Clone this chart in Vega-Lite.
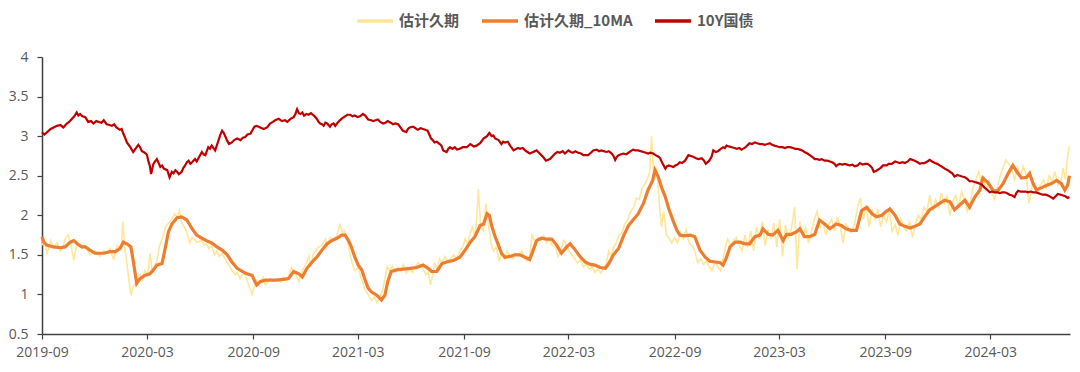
{
  "$schema": "https://vega.github.io/schema/vega-lite/v6.json",
  "width": 1028,
  "height": 277,
  "autosize": {"type": "none"},
  "padding": {"left": 42, "top": 57, "right": 10, "bottom": 38},
  "background": "white",
  "config": {
    "view": {"stroke": null},
    "axis": {"labelFont": "Open Sans", "labelFontSize": 14, "labelColor": "#595959", "domainColor": "#404040", "tickColor": "#404040", "grid": false, "title": null, "domainWidth": 1.5, "tickWidth": 1.2, "tickSize": 5, "labelFlush": false}
  },
  "datasets": {
    "raw": [
      {"d":"2019-09-01","v":1.62},{"d":"2019-09-04","v":1.70},{"d":"2019-09-10","v":1.52},{"d":"2019-09-16","v":1.68},{"d":"2019-09-21","v":1.58},{"d":"2019-09-27","v":1.65},{"d":"2019-10-03","v":1.55},{"d":"2019-10-08","v":1.62},{"d":"2019-10-11","v":1.70},{"d":"2019-10-16","v":1.75},{"d":"2019-10-20","v":1.68},{"d":"2019-10-26","v":1.43},{"d":"2019-11-01","v":1.66},{"d":"2019-11-09","v":1.58},{"d":"2019-11-15","v":1.62},{"d":"2019-11-23","v":1.50},{"d":"2019-12-02","v":1.55},{"d":"2019-12-10","v":1.48},{"d":"2019-12-17","v":1.55},{"d":"2019-12-22","v":1.52},{"d":"2019-12-28","v":1.58},{"d":"2020-01-03","v":1.44},{"d":"2020-01-06","v":1.55},{"d":"2020-01-10","v":1.62},{"d":"2020-01-14","v":1.58},{"d":"2020-01-17","v":1.65},{"d":"2020-01-19","v":1.92},{"d":"2020-01-22","v":1.60},{"d":"2020-01-26","v":1.40},{"d":"2020-01-30","v":1.15},{"d":"2020-02-02","v":0.99},{"d":"2020-02-06","v":1.10},{"d":"2020-02-10","v":1.15},{"d":"2020-02-14","v":1.22},{"d":"2020-02-18","v":1.25},{"d":"2020-02-22","v":1.18},{"d":"2020-02-26","v":1.30},{"d":"2020-03-02","v":1.25},{"d":"2020-03-06","v":1.52},{"d":"2020-03-10","v":1.30},{"d":"2020-03-14","v":1.35},{"d":"2020-03-18","v":1.42},{"d":"2020-03-22","v":1.60},{"d":"2020-03-27","v":1.70},{"d":"2020-04-02","v":1.85},{"d":"2020-04-07","v":1.90},{"d":"2020-04-13","v":1.95},{"d":"2020-04-18","v":2.02},{"d":"2020-04-22","v":1.98},{"d":"2020-04-26","v":2.06},{"d":"2020-04-30","v":1.90},{"d":"2020-05-05","v":1.85},{"d":"2020-05-09","v":1.78},{"d":"2020-05-14","v":1.65},{"d":"2020-05-18","v":1.72},{"d":"2020-05-22","v":1.70},{"d":"2020-05-26","v":1.66},{"d":"2020-06-04","v":1.68},{"d":"2020-06-08","v":1.62},{"d":"2020-06-12","v":1.64},{"d":"2020-06-16","v":1.58},{"d":"2020-06-21","v":1.62},{"d":"2020-06-26","v":1.50},{"d":"2020-06-30","v":1.55},{"d":"2020-07-04","v":1.48},{"d":"2020-07-09","v":1.52},{"d":"2020-07-14","v":1.45},{"d":"2020-07-18","v":1.40},{"d":"2020-07-22","v":1.36},{"d":"2020-07-26","v":1.30},{"d":"2020-08-01","v":1.25},{"d":"2020-08-04","v":1.28},{"d":"2020-08-09","v":1.20},{"d":"2020-08-13","v":1.25},{"d":"2020-08-17","v":1.27},{"d":"2020-08-21","v":1.18},{"d":"2020-08-25","v":1.10},{"d":"2020-08-30","v":1.00},{"d":"2020-09-03","v":1.10},{"d":"2020-09-07","v":1.18},{"d":"2020-09-13","v":1.15},{"d":"2020-09-18","v":1.22},{"d":"2020-09-22","v":1.12},{"d":"2020-09-30","v":1.20},{"d":"2020-10-06","v":1.16},{"d":"2020-10-12","v":1.20},{"d":"2020-10-18","v":1.16},{"d":"2020-10-23","v":1.22},{"d":"2020-10-28","v":1.18},{"d":"2020-11-01","v":1.22},{"d":"2020-11-06","v":1.34},{"d":"2020-11-10","v":1.30},{"d":"2020-11-15","v":1.24},{"d":"2020-11-19","v":1.16},{"d":"2020-11-25","v":1.30},{"d":"2020-12-01","v":1.38},{"d":"2020-12-06","v":1.48},{"d":"2020-12-10","v":1.35},{"d":"2020-12-14","v":1.52},{"d":"2020-12-18","v":1.55},{"d":"2020-12-23","v":1.60},{"d":"2020-12-29","v":1.62},{"d":"2021-01-04","v":1.70},{"d":"2021-01-07","v":1.60},{"d":"2021-01-12","v":1.72},{"d":"2021-01-18","v":1.68},{"d":"2021-01-24","v":1.75},{"d":"2021-01-29","v":1.88},{"d":"2021-02-03","v":1.78},{"d":"2021-02-07","v":1.80},{"d":"2021-02-12","v":1.65},{"d":"2021-02-16","v":1.50},{"d":"2021-02-20","v":1.38},{"d":"2021-02-24","v":1.30},{"d":"2021-03-02","v":1.34},{"d":"2021-03-06","v":1.22},{"d":"2021-03-10","v":1.15},{"d":"2021-03-14","v":1.05},{"d":"2021-03-19","v":1.00},{"d":"2021-03-25","v":0.92},{"d":"2021-03-30","v":0.97},{"d":"2021-04-03","v":0.90},{"d":"2021-04-08","v":0.95},{"d":"2021-04-13","v":1.05},{"d":"2021-04-17","v":1.20},{"d":"2021-04-21","v":1.35},{"d":"2021-04-25","v":1.30},{"d":"2021-04-30","v":1.36},{"d":"2021-05-05","v":1.28},{"d":"2021-05-10","v":1.34},{"d":"2021-05-15","v":1.30},{"d":"2021-05-19","v":1.38},{"d":"2021-05-24","v":1.27},{"d":"2021-05-30","v":1.33},{"d":"2021-06-04","v":1.28},{"d":"2021-06-09","v":1.36},{"d":"2021-06-14","v":1.40},{"d":"2021-06-22","v":1.33},{"d":"2021-06-27","v":1.25},{"d":"2021-07-01","v":1.28},{"d":"2021-07-05","v":1.12},{"d":"2021-07-09","v":1.25},{"d":"2021-07-12","v":1.40},{"d":"2021-07-16","v":1.32},{"d":"2021-07-21","v":1.45},{"d":"2021-07-25","v":1.40},{"d":"2021-07-30","v":1.48},{"d":"2021-08-04","v":1.42},{"d":"2021-08-09","v":1.45},{"d":"2021-08-14","v":1.50},{"d":"2021-08-20","v":1.46},{"d":"2021-08-25","v":1.55},{"d":"2021-08-30","v":1.60},{"d":"2021-09-03","v":1.70},{"d":"2021-09-08","v":1.62},{"d":"2021-09-12","v":1.78},{"d":"2021-09-16","v":1.85},{"d":"2021-09-20","v":1.72},{"d":"2021-09-23","v":1.95},{"d":"2021-09-26","v":2.33},{"d":"2021-09-30","v":1.85},{"d":"2021-10-05","v":1.80},{"d":"2021-10-09","v":2.15},{"d":"2021-10-13","v":1.90},{"d":"2021-10-18","v":1.65},{"d":"2021-10-22","v":1.55},{"d":"2021-10-27","v":1.60},{"d":"2021-11-01","v":1.42},{"d":"2021-11-05","v":1.52},{"d":"2021-11-10","v":1.45},{"d":"2021-11-15","v":1.55},{"d":"2021-11-20","v":1.48},{"d":"2021-11-25","v":1.45},{"d":"2021-11-30","v":1.52},{"d":"2021-12-05","v":1.48},{"d":"2021-12-10","v":1.55},{"d":"2021-12-15","v":1.45},{"d":"2021-12-20","v":1.42},{"d":"2021-12-24","v":1.50},{"d":"2021-12-28","v":1.75},{"d":"2022-01-03","v":1.65},{"d":"2022-01-07","v":1.72},{"d":"2022-01-12","v":1.68},{"d":"2022-01-17","v":1.74},{"d":"2022-01-22","v":1.65},{"d":"2022-01-27","v":1.70},{"d":"2022-02-01","v":1.62},{"d":"2022-02-07","v":1.60},{"d":"2022-02-11","v":1.48},{"d":"2022-02-16","v":1.55},{"d":"2022-02-21","v":1.68},{"d":"2022-02-26","v":1.62},{"d":"2022-03-02","v":1.55},{"d":"2022-03-07","v":1.50},{"d":"2022-03-12","v":1.45},{"d":"2022-03-17","v":1.40},{"d":"2022-03-22","v":1.43},{"d":"2022-03-27","v":1.35},{"d":"2022-04-01","v":1.38},{"d":"2022-04-06","v":1.32},{"d":"2022-04-11","v":1.35},{"d":"2022-04-16","v":1.28},{"d":"2022-04-21","v":1.32},{"d":"2022-04-26","v":1.27},{"d":"2022-05-01","v":1.33},{"d":"2022-05-06","v":1.40},{"d":"2022-05-10","v":1.55},{"d":"2022-05-14","v":1.48},{"d":"2022-05-18","v":1.60},{"d":"2022-05-23","v":1.65},{"d":"2022-05-28","v":1.75},{"d":"2022-06-02","v":1.78},{"d":"2022-06-07","v":1.90},{"d":"2022-06-12","v":1.95},{"d":"2022-06-17","v":2.05},{"d":"2022-06-22","v":2.10},{"d":"2022-06-27","v":2.22},{"d":"2022-07-02","v":2.20},{"d":"2022-07-07","v":2.35},{"d":"2022-07-12","v":2.40},{"d":"2022-07-17","v":2.48},{"d":"2022-07-20","v":2.55},{"d":"2022-07-23","v":3.00},{"d":"2022-07-27","v":2.45},{"d":"2022-08-01","v":2.60},{"d":"2022-08-05","v":2.20},{"d":"2022-08-09","v":1.85},{"d":"2022-08-13","v":2.05},{"d":"2022-08-18","v":1.75},{"d":"2022-08-22","v":1.72},{"d":"2022-08-27","v":1.65},{"d":"2022-09-01","v":1.72},{"d":"2022-09-06","v":1.65},{"d":"2022-09-11","v":1.78},{"d":"2022-09-16","v":1.70},{"d":"2022-09-21","v":1.82},{"d":"2022-09-26","v":1.65},{"d":"2022-10-01","v":1.62},{"d":"2022-10-06","v":1.55},{"d":"2022-10-11","v":1.40},{"d":"2022-10-16","v":1.45},{"d":"2022-10-21","v":1.38},{"d":"2022-10-26","v":1.42},{"d":"2022-10-31","v":1.35},{"d":"2022-11-05","v":1.30},{"d":"2022-11-10","v":1.42},{"d":"2022-11-15","v":1.35},{"d":"2022-11-20","v":1.30},{"d":"2022-11-24","v":1.45},{"d":"2022-11-28","v":1.60},{"d":"2022-12-02","v":1.70},{"d":"2022-12-07","v":1.62},{"d":"2022-12-12","v":1.68},{"d":"2022-12-17","v":1.72},{"d":"2022-12-22","v":1.62},{"d":"2022-12-27","v":1.55},{"d":"2023-01-01","v":1.75},{"d":"2023-01-06","v":1.60},{"d":"2023-01-11","v":1.80},{"d":"2023-01-16","v":1.55},{"d":"2023-01-21","v":1.85},{"d":"2023-01-26","v":1.70},{"d":"2023-01-31","v":1.92},{"d":"2023-02-05","v":1.62},{"d":"2023-02-10","v":1.82},{"d":"2023-02-15","v":1.70},{"d":"2023-02-20","v":1.90},{"d":"2023-02-25","v":1.60},{"d":"2023-03-02","v":1.95},{"d":"2023-03-07","v":1.48},{"d":"2023-03-12","v":1.88},{"d":"2023-03-17","v":1.70},{"d":"2023-03-22","v":1.82},{"d":"2023-03-28","v":2.10},{"d":"2023-04-01","v":1.32},{"d":"2023-04-06","v":1.92},{"d":"2023-04-11","v":1.72},{"d":"2023-04-16","v":1.85},{"d":"2023-04-21","v":1.65},{"d":"2023-04-26","v":1.80},{"d":"2023-05-01","v":1.95},{"d":"2023-05-06","v":2.05},{"d":"2023-05-11","v":1.85},{"d":"2023-05-16","v":1.92},{"d":"2023-05-21","v":1.75},{"d":"2023-05-26","v":1.88},{"d":"2023-05-31","v":1.95},{"d":"2023-06-05","v":1.80},{"d":"2023-06-10","v":1.98},{"d":"2023-06-15","v":1.85},{"d":"2023-06-20","v":1.65},{"d":"2023-06-25","v":1.90},{"d":"2023-06-30","v":1.80},{"d":"2023-07-05","v":1.78},{"d":"2023-07-10","v":1.90},{"d":"2023-07-15","v":2.10},{"d":"2023-07-20","v":2.22},{"d":"2023-07-25","v":1.95},{"d":"2023-07-30","v":2.12},{"d":"2023-08-04","v":1.85},{"d":"2023-08-09","v":2.08},{"d":"2023-08-14","v":1.95},{"d":"2023-08-19","v":2.08},{"d":"2023-08-24","v":1.85},{"d":"2023-08-29","v":2.00},{"d":"2023-09-03","v":1.92},{"d":"2023-09-08","v":2.05},{"d":"2023-09-13","v":1.80},{"d":"2023-09-18","v":1.88},{"d":"2023-09-23","v":1.75},{"d":"2023-09-28","v":1.95},{"d":"2023-10-03","v":1.85},{"d":"2023-10-08","v":1.80},{"d":"2023-10-13","v":1.92},{"d":"2023-10-18","v":1.72},{"d":"2023-10-23","v":1.88},{"d":"2023-10-28","v":2.00},{"d":"2023-11-02","v":1.95},{"d":"2023-11-07","v":2.10},{"d":"2023-11-12","v":2.05},{"d":"2023-11-17","v":2.25},{"d":"2023-11-22","v":2.05},{"d":"2023-11-27","v":2.20},{"d":"2023-12-02","v":2.10},{"d":"2023-12-07","v":2.28},{"d":"2023-12-12","v":2.15},{"d":"2023-12-17","v":2.25},{"d":"2023-12-22","v":2.00},{"d":"2023-12-27","v":2.18},{"d":"2024-01-01","v":2.25},{"d":"2024-01-06","v":2.10},{"d":"2024-01-11","v":2.30},{"d":"2024-01-16","v":2.20},{"d":"2024-01-21","v":2.05},{"d":"2024-01-26","v":2.15},{"d":"2024-01-31","v":2.35},{"d":"2024-02-05","v":2.45},{"d":"2024-02-10","v":2.55},{"d":"2024-02-14","v":2.40},{"d":"2024-02-18","v":2.50},{"d":"2024-02-22","v":2.30},{"d":"2024-02-27","v":2.45},{"d":"2024-03-03","v":2.30},{"d":"2024-03-08","v":2.20},{"d":"2024-03-13","v":2.35},{"d":"2024-03-18","v":2.50},{"d":"2024-03-23","v":2.60},{"d":"2024-03-28","v":2.70},{"d":"2024-04-02","v":2.65},{"d":"2024-04-07","v":2.58},{"d":"2024-04-12","v":2.45},{"d":"2024-04-17","v":2.60},{"d":"2024-04-22","v":2.50},{"d":"2024-04-27","v":2.62},{"d":"2024-05-02","v":2.50},{"d":"2024-05-07","v":2.15},{"d":"2024-05-12","v":2.35},{"d":"2024-05-17","v":2.40},{"d":"2024-05-22","v":2.30},{"d":"2024-05-27","v":2.38},{"d":"2024-06-01","v":2.45},{"d":"2024-06-06","v":2.35},{"d":"2024-06-11","v":2.50},{"d":"2024-06-16","v":2.42},{"d":"2024-06-21","v":2.55},{"d":"2024-06-26","v":2.38},{"d":"2024-07-01","v":2.40},{"d":"2024-07-05","v":2.60},{"d":"2024-07-09","v":2.45},{"d":"2024-07-12","v":2.70},{"d":"2024-07-16","v":2.88}
    ],
    "ma": [
      {"d":"2019-09-01","v":1.73},{"d":"2019-09-04","v":1.66},{"d":"2019-09-10","v":1.62},{"d":"2019-09-21","v":1.60},{"d":"2019-10-03","v":1.59},{"d":"2019-10-11","v":1.60},{"d":"2019-10-20","v":1.66},{"d":"2019-10-26","v":1.68},{"d":"2019-11-01","v":1.64},{"d":"2019-11-09","v":1.60},{"d":"2019-11-15","v":1.60},{"d":"2019-11-23","v":1.56},{"d":"2019-12-02","v":1.52},{"d":"2019-12-17","v":1.52},{"d":"2019-12-28","v":1.54},{"d":"2020-01-06","v":1.54},{"d":"2020-01-14","v":1.58},{"d":"2020-01-20","v":1.66},{"d":"2020-01-26","v":1.64},{"d":"2020-02-02","v":1.60},{"d":"2020-02-06","v":1.43},{"d":"2020-02-12","v":1.14},{"d":"2020-02-18","v":1.20},{"d":"2020-02-26","v":1.24},{"d":"2020-03-06","v":1.26},{"d":"2020-03-12","v":1.31},{"d":"2020-03-18","v":1.37},{"d":"2020-03-27","v":1.39},{"d":"2020-04-02","v":1.60},{"d":"2020-04-07","v":1.79},{"d":"2020-04-13","v":1.89},{"d":"2020-04-22","v":1.97},{"d":"2020-04-30","v":1.98},{"d":"2020-05-09","v":1.94},{"d":"2020-05-18","v":1.83},{"d":"2020-05-26","v":1.75},{"d":"2020-06-04","v":1.71},{"d":"2020-06-12","v":1.68},{"d":"2020-06-21","v":1.65},{"d":"2020-06-30","v":1.60},{"d":"2020-07-09","v":1.56},{"d":"2020-07-18","v":1.50},{"d":"2020-07-26","v":1.41},{"d":"2020-08-04","v":1.33},{"d":"2020-08-13","v":1.29},{"d":"2020-08-21","v":1.26},{"d":"2020-08-30","v":1.24},{"d":"2020-09-04","v":1.16},{"d":"2020-09-07","v":1.12},{"d":"2020-09-13","v":1.16},{"d":"2020-09-22","v":1.18},{"d":"2020-09-30","v":1.18},{"d":"2020-10-12","v":1.18},{"d":"2020-10-23","v":1.19},{"d":"2020-11-01","v":1.20},{"d":"2020-11-10","v":1.29},{"d":"2020-11-19","v":1.26},{"d":"2020-11-25","v":1.22},{"d":"2020-12-03","v":1.33},{"d":"2020-12-12","v":1.41},{"d":"2020-12-20","v":1.47},{"d":"2020-12-29","v":1.56},{"d":"2021-01-07","v":1.64},{"d":"2021-01-15","v":1.68},{"d":"2021-01-24","v":1.71},{"d":"2021-02-01","v":1.75},{"d":"2021-02-07","v":1.75},{"d":"2021-02-13","v":1.68},{"d":"2021-02-18","v":1.60},{"d":"2021-02-24","v":1.47},{"d":"2021-03-02","v":1.37},{"d":"2021-03-08","v":1.31},{"d":"2021-03-14","v":1.18},{"d":"2021-03-19","v":1.08},{"d":"2021-03-25","v":1.03},{"d":"2021-04-03","v":0.99},{"d":"2021-04-11","v":0.93},{"d":"2021-04-17","v":0.99},{"d":"2021-04-22","v":1.16},{"d":"2021-04-28","v":1.29},{"d":"2021-05-07","v":1.31},{"d":"2021-05-19","v":1.32},{"d":"2021-05-31","v":1.33},{"d":"2021-06-11","v":1.34},{"d":"2021-06-22","v":1.37},{"d":"2021-07-01","v":1.33},{"d":"2021-07-07","v":1.29},{"d":"2021-07-16","v":1.29},{"d":"2021-07-25","v":1.39},{"d":"2021-08-02","v":1.41},{"d":"2021-08-14","v":1.43},{"d":"2021-08-25","v":1.47},{"d":"2021-09-03","v":1.56},{"d":"2021-09-12","v":1.66},{"d":"2021-09-20","v":1.73},{"d":"2021-09-29","v":1.87},{"d":"2021-10-05","v":1.89},{"d":"2021-10-11","v":2.02},{"d":"2021-10-15","v":2.00},{"d":"2021-10-19","v":1.87},{"d":"2021-10-25","v":1.73},{"d":"2021-10-31","v":1.62},{"d":"2021-11-05","v":1.52},{"d":"2021-11-11","v":1.47},{"d":"2021-11-20","v":1.48},{"d":"2021-11-28","v":1.50},{"d":"2021-12-07","v":1.50},{"d":"2021-12-16","v":1.47},{"d":"2021-12-24","v":1.44},{"d":"2021-12-30","v":1.56},{"d":"2022-01-05","v":1.68},{"d":"2022-01-13","v":1.71},{"d":"2022-01-22","v":1.70},{"d":"2022-01-31","v":1.70},{"d":"2022-02-09","v":1.62},{"d":"2022-02-17","v":1.52},{"d":"2022-02-26","v":1.60},{"d":"2022-03-04","v":1.64},{"d":"2022-03-13","v":1.56},{"d":"2022-03-22","v":1.47},{"d":"2022-03-30","v":1.41},{"d":"2022-04-08","v":1.38},{"d":"2022-04-16","v":1.37},{"d":"2022-04-25","v":1.34},{"d":"2022-05-04","v":1.33},{"d":"2022-05-10","v":1.39},{"d":"2022-05-18","v":1.50},{"d":"2022-05-27","v":1.58},{"d":"2022-06-04","v":1.73},{"d":"2022-06-13","v":1.87},{"d":"2022-06-21","v":1.94},{"d":"2022-06-30","v":2.02},{"d":"2022-07-09","v":2.15},{"d":"2022-07-17","v":2.32},{"d":"2022-07-25","v":2.44},{"d":"2022-07-29","v":2.57},{"d":"2022-08-04","v":2.48},{"d":"2022-08-10","v":2.34},{"d":"2022-08-16","v":2.23},{"d":"2022-08-22","v":2.08},{"d":"2022-08-30","v":1.92},{"d":"2022-09-05","v":1.81},{"d":"2022-09-10","v":1.75},{"d":"2022-09-19","v":1.74},{"d":"2022-09-28","v":1.75},{"d":"2022-10-06","v":1.73},{"d":"2022-10-15","v":1.56},{"d":"2022-10-24","v":1.47},{"d":"2022-11-01","v":1.42},{"d":"2022-11-10","v":1.41},{"d":"2022-11-19","v":1.40},{"d":"2022-11-24","v":1.37},{"d":"2022-11-30","v":1.47},{"d":"2022-12-06","v":1.60},{"d":"2022-12-15","v":1.66},{"d":"2022-12-23","v":1.66},{"d":"2023-01-01","v":1.64},{"d":"2023-01-09","v":1.64},{"d":"2023-01-18","v":1.73},{"d":"2023-01-27","v":1.75},{"d":"2023-02-01","v":1.83},{"d":"2023-02-10","v":1.76},{"d":"2023-02-18","v":1.75},{"d":"2023-02-27","v":1.81},{"d":"2023-03-08","v":1.68},{"d":"2023-03-14","v":1.76},{"d":"2023-03-22","v":1.76},{"d":"2023-03-31","v":1.79},{"d":"2023-04-06","v":1.83},{"d":"2023-04-14","v":1.73},{"d":"2023-04-23","v":1.73},{"d":"2023-05-02","v":1.76},{"d":"2023-05-10","v":1.94},{"d":"2023-05-19","v":1.89},{"d":"2023-05-28","v":1.83},{"d":"2023-06-08","v":1.89},{"d":"2023-06-17","v":1.87},{"d":"2023-06-25","v":1.83},{"d":"2023-07-04","v":1.81},{"d":"2023-07-13","v":1.81},{"d":"2023-07-22","v":2.06},{"d":"2023-07-31","v":2.10},{"d":"2023-08-09","v":2.02},{"d":"2023-08-17","v":1.98},{"d":"2023-08-26","v":2.00},{"d":"2023-09-01","v":2.04},{"d":"2023-09-09","v":2.08},{"d":"2023-09-18","v":2.00},{"d":"2023-09-26","v":1.89},{"d":"2023-10-05","v":1.86},{"d":"2023-10-14","v":1.84},{"d":"2023-10-22","v":1.86},{"d":"2023-10-31","v":1.89},{"d":"2023-11-08","v":1.98},{"d":"2023-11-17","v":2.07},{"d":"2023-11-26","v":2.11},{"d":"2023-12-04","v":2.15},{"d":"2023-12-13","v":2.19},{"d":"2023-12-22","v":2.17},{"d":"2023-12-30","v":2.07},{"d":"2024-01-08","v":2.13},{"d":"2024-01-17","v":2.19},{"d":"2024-01-25","v":2.10},{"d":"2024-02-03","v":2.23},{"d":"2024-02-12","v":2.32},{"d":"2024-02-17","v":2.47},{"d":"2024-02-26","v":2.41},{"d":"2024-03-06","v":2.31},{"d":"2024-03-14","v":2.31},{"d":"2024-03-23","v":2.40},{"d":"2024-04-01","v":2.53},{"d":"2024-04-09","v":2.63},{"d":"2024-04-16","v":2.55},{"d":"2024-04-24","v":2.47},{"d":"2024-05-03","v":2.48},{"d":"2024-05-08","v":2.53},{"d":"2024-05-14","v":2.40},{"d":"2024-05-20","v":2.32},{"d":"2024-05-29","v":2.35},{"d":"2024-06-07","v":2.38},{"d":"2024-06-15","v":2.40},{"d":"2024-06-24","v":2.44},{"d":"2024-07-02","v":2.40},{"d":"2024-07-08","v":2.32},{"d":"2024-07-13","v":2.38},{"d":"2024-07-16","v":2.50}
    ],
    "bond": [
      {"d":"2019-09-01","v":3.05},{"d":"2019-09-05","v":3.02},{"d":"2019-09-10","v":3.05},{"d":"2019-09-16","v":3.09},{"d":"2019-09-21","v":3.11},{"d":"2019-09-27","v":3.13},{"d":"2019-10-03","v":3.14},{"d":"2019-10-08","v":3.11},{"d":"2019-10-14","v":3.16},{"d":"2019-10-18","v":3.18},{"d":"2019-10-23","v":3.22},{"d":"2019-10-27","v":3.25},{"d":"2019-10-31","v":3.30},{"d":"2019-11-03","v":3.26},{"d":"2019-11-06","v":3.28},{"d":"2019-11-10","v":3.25},{"d":"2019-11-15","v":3.24},{"d":"2019-11-20","v":3.18},{"d":"2019-11-25","v":3.19},{"d":"2019-11-29","v":3.16},{"d":"2019-12-04","v":3.19},{"d":"2019-12-08","v":3.18},{"d":"2019-12-13","v":3.17},{"d":"2019-12-17","v":3.20},{"d":"2019-12-22","v":3.15},{"d":"2019-12-27","v":3.14},{"d":"2019-12-31","v":3.13},{"d":"2020-01-04","v":3.15},{"d":"2020-01-08","v":3.11},{"d":"2020-01-14","v":3.08},{"d":"2020-01-17","v":3.09},{"d":"2020-01-20","v":3.03},{"d":"2020-01-23","v":2.98},{"d":"2020-01-26","v":2.92},{"d":"2020-02-01","v":2.86},{"d":"2020-02-06","v":2.80},{"d":"2020-02-09","v":2.83},{"d":"2020-02-12","v":2.86},{"d":"2020-02-15","v":2.89},{"d":"2020-02-18","v":2.86},{"d":"2020-02-21","v":2.81},{"d":"2020-02-24","v":2.80},{"d":"2020-02-28","v":2.78},{"d":"2020-03-01","v":2.76},{"d":"2020-03-03","v":2.69},{"d":"2020-03-06","v":2.62},{"d":"2020-03-08","v":2.52},{"d":"2020-03-12","v":2.65},{"d":"2020-03-15","v":2.68},{"d":"2020-03-18","v":2.71},{"d":"2020-03-21","v":2.66},{"d":"2020-03-24","v":2.61},{"d":"2020-03-27","v":2.63},{"d":"2020-03-30","v":2.59},{"d":"2020-04-05","v":2.57},{"d":"2020-04-09","v":2.48},{"d":"2020-04-13","v":2.55},{"d":"2020-04-16","v":2.53},{"d":"2020-04-19","v":2.57},{"d":"2020-04-22","v":2.55},{"d":"2020-04-25","v":2.52},{"d":"2020-04-30","v":2.55},{"d":"2020-05-03","v":2.60},{"d":"2020-05-06","v":2.63},{"d":"2020-05-09","v":2.67},{"d":"2020-05-12","v":2.69},{"d":"2020-05-15","v":2.65},{"d":"2020-05-18","v":2.67},{"d":"2020-05-23","v":2.71},{"d":"2020-05-26","v":2.68},{"d":"2020-05-29","v":2.72},{"d":"2020-06-04","v":2.80},{"d":"2020-06-07","v":2.77},{"d":"2020-06-10","v":2.76},{"d":"2020-06-15","v":2.86},{"d":"2020-06-18","v":2.84},{"d":"2020-06-21","v":2.88},{"d":"2020-06-27","v":2.82},{"d":"2020-07-03","v":2.95},{"d":"2020-07-06","v":3.02},{"d":"2020-07-09","v":3.07},{"d":"2020-07-12","v":3.04},{"d":"2020-07-15","v":2.99},{"d":"2020-07-18","v":2.94},{"d":"2020-07-21","v":2.90},{"d":"2020-07-26","v":2.92},{"d":"2020-07-30","v":2.95},{"d":"2020-08-04","v":2.97},{"d":"2020-08-10","v":2.95},{"d":"2020-08-14","v":2.98},{"d":"2020-08-18","v":2.99},{"d":"2020-08-22","v":3.02},{"d":"2020-08-27","v":3.03},{"d":"2020-08-31","v":3.08},{"d":"2020-09-03","v":3.12},{"d":"2020-09-07","v":3.13},{"d":"2020-09-13","v":3.11},{"d":"2020-09-19","v":3.09},{"d":"2020-09-25","v":3.11},{"d":"2020-09-30","v":3.16},{"d":"2020-10-05","v":3.18},{"d":"2020-10-09","v":3.20},{"d":"2020-10-15","v":3.22},{"d":"2020-10-21","v":3.19},{"d":"2020-10-26","v":3.20},{"d":"2020-10-30","v":3.18},{"d":"2020-11-05","v":3.22},{"d":"2020-11-10","v":3.24},{"d":"2020-11-13","v":3.28},{"d":"2020-11-16","v":3.34},{"d":"2020-11-19","v":3.29},{"d":"2020-11-22","v":3.28},{"d":"2020-11-25","v":3.30},{"d":"2020-11-28","v":3.26},{"d":"2020-12-02","v":3.28},{"d":"2020-12-06","v":3.27},{"d":"2020-12-10","v":3.29},{"d":"2020-12-15","v":3.26},{"d":"2020-12-20","v":3.22},{"d":"2020-12-23","v":3.18},{"d":"2020-12-26","v":3.16},{"d":"2020-12-29","v":3.15},{"d":"2021-01-01","v":3.13},{"d":"2021-01-04","v":3.17},{"d":"2021-01-07","v":3.16},{"d":"2021-01-12","v":3.12},{"d":"2021-01-15","v":3.15},{"d":"2021-01-18","v":3.16},{"d":"2021-01-21","v":3.13},{"d":"2021-01-24","v":3.16},{"d":"2021-01-29","v":3.20},{"d":"2021-02-03","v":3.23},{"d":"2021-02-07","v":3.25},{"d":"2021-02-11","v":3.27},{"d":"2021-02-16","v":3.27},{"d":"2021-02-20","v":3.25},{"d":"2021-02-24","v":3.26},{"d":"2021-03-01","v":3.24},{"d":"2021-03-05","v":3.25},{"d":"2021-03-10","v":3.28},{"d":"2021-03-14","v":3.26},{"d":"2021-03-19","v":3.21},{"d":"2021-03-24","v":3.20},{"d":"2021-03-28","v":3.19},{"d":"2021-04-01","v":3.20},{"d":"2021-04-05","v":3.21},{"d":"2021-04-09","v":3.18},{"d":"2021-04-14","v":3.16},{"d":"2021-04-18","v":3.17},{"d":"2021-04-22","v":3.19},{"d":"2021-04-27","v":3.17},{"d":"2021-05-01","v":3.15},{"d":"2021-05-05","v":3.16},{"d":"2021-05-10","v":3.15},{"d":"2021-05-14","v":3.11},{"d":"2021-05-18","v":3.07},{"d":"2021-05-24","v":3.05},{"d":"2021-05-27","v":3.09},{"d":"2021-05-30","v":3.11},{"d":"2021-06-05","v":3.12},{"d":"2021-06-09","v":3.10},{"d":"2021-06-13","v":3.08},{"d":"2021-06-18","v":3.10},{"d":"2021-06-22","v":3.09},{"d":"2021-06-26","v":3.08},{"d":"2021-06-30","v":3.07},{"d":"2021-07-03","v":3.02},{"d":"2021-07-06","v":2.97},{"d":"2021-07-09","v":2.95},{"d":"2021-07-12","v":2.92},{"d":"2021-07-16","v":2.93},{"d":"2021-07-21","v":2.90},{"d":"2021-07-24","v":2.88},{"d":"2021-07-27","v":2.82},{"d":"2021-08-02","v":2.80},{"d":"2021-08-05","v":2.84},{"d":"2021-08-08","v":2.86},{"d":"2021-08-12","v":2.84},{"d":"2021-08-16","v":2.86},{"d":"2021-08-20","v":2.83},{"d":"2021-08-25","v":2.84},{"d":"2021-08-30","v":2.86},{"d":"2021-09-06","v":2.86},{"d":"2021-09-12","v":2.90},{"d":"2021-09-18","v":2.87},{"d":"2021-09-23","v":2.88},{"d":"2021-09-29","v":2.91},{"d":"2021-10-05","v":2.97},{"d":"2021-10-11","v":3.00},{"d":"2021-10-15","v":3.04},{"d":"2021-10-19","v":3.00},{"d":"2021-10-22","v":3.01},{"d":"2021-10-25","v":2.97},{"d":"2021-10-31","v":2.95},{"d":"2021-11-05","v":2.90},{"d":"2021-11-08","v":2.93},{"d":"2021-11-11","v":2.92},{"d":"2021-11-16","v":2.93},{"d":"2021-11-20","v":2.88},{"d":"2021-11-26","v":2.82},{"d":"2021-12-01","v":2.84},{"d":"2021-12-04","v":2.85},{"d":"2021-12-07","v":2.84},{"d":"2021-12-12","v":2.85},{"d":"2021-12-16","v":2.82},{"d":"2021-12-20","v":2.80},{"d":"2021-12-24","v":2.78},{"d":"2021-12-30","v":2.80},{"d":"2022-01-05","v":2.82},{"d":"2022-01-09","v":2.79},{"d":"2022-01-13","v":2.76},{"d":"2022-01-17","v":2.73},{"d":"2022-01-21","v":2.69},{"d":"2022-01-28","v":2.71},{"d":"2022-02-02","v":2.75},{"d":"2022-02-06","v":2.78},{"d":"2022-02-10","v":2.80},{"d":"2022-02-14","v":2.79},{"d":"2022-02-19","v":2.81},{"d":"2022-02-23","v":2.78},{"d":"2022-03-01","v":2.82},{"d":"2022-03-05","v":2.80},{"d":"2022-03-09","v":2.79},{"d":"2022-03-13","v":2.81},{"d":"2022-03-18","v":2.79},{"d":"2022-03-23","v":2.78},{"d":"2022-03-27","v":2.76},{"d":"2022-04-04","v":2.76},{"d":"2022-04-09","v":2.79},{"d":"2022-04-13","v":2.82},{"d":"2022-04-19","v":2.83},{"d":"2022-04-23","v":2.81},{"d":"2022-04-27","v":2.82},{"d":"2022-05-01","v":2.81},{"d":"2022-05-06","v":2.80},{"d":"2022-05-10","v":2.81},{"d":"2022-05-15","v":2.78},{"d":"2022-05-18","v":2.75},{"d":"2022-05-21","v":2.70},{"d":"2022-05-24","v":2.74},{"d":"2022-05-27","v":2.76},{"d":"2022-06-04","v":2.78},{"d":"2022-06-09","v":2.77},{"d":"2022-06-13","v":2.79},{"d":"2022-06-17","v":2.81},{"d":"2022-06-21","v":2.83},{"d":"2022-06-25","v":2.82},{"d":"2022-06-30","v":2.82},{"d":"2022-07-04","v":2.81},{"d":"2022-07-09","v":2.80},{"d":"2022-07-13","v":2.79},{"d":"2022-07-17","v":2.78},{"d":"2022-07-21","v":2.79},{"d":"2022-07-26","v":2.78},{"d":"2022-07-30","v":2.76},{"d":"2022-08-04","v":2.74},{"d":"2022-08-07","v":2.72},{"d":"2022-08-10","v":2.67},{"d":"2022-08-13","v":2.63},{"d":"2022-08-16","v":2.59},{"d":"2022-08-19","v":2.62},{"d":"2022-08-22","v":2.63},{"d":"2022-08-26","v":2.62},{"d":"2022-08-30","v":2.61},{"d":"2022-09-02","v":2.63},{"d":"2022-09-06","v":2.64},{"d":"2022-09-10","v":2.67},{"d":"2022-09-14","v":2.66},{"d":"2022-09-19","v":2.69},{"d":"2022-09-25","v":2.76},{"d":"2022-09-29","v":2.75},{"d":"2022-10-03","v":2.74},{"d":"2022-10-08","v":2.72},{"d":"2022-10-12","v":2.71},{"d":"2022-10-18","v":2.72},{"d":"2022-10-22","v":2.69},{"d":"2022-10-25","v":2.65},{"d":"2022-10-31","v":2.69},{"d":"2022-11-04","v":2.74},{"d":"2022-11-07","v":2.82},{"d":"2022-11-11","v":2.80},{"d":"2022-11-15","v":2.81},{"d":"2022-11-20","v":2.84},{"d":"2022-11-24","v":2.86},{"d":"2022-11-27","v":2.85},{"d":"2022-11-30","v":2.88},{"d":"2022-12-04","v":2.87},{"d":"2022-12-09","v":2.86},{"d":"2022-12-14","v":2.85},{"d":"2022-12-18","v":2.84},{"d":"2022-12-22","v":2.85},{"d":"2022-12-26","v":2.83},{"d":"2023-01-02","v":2.86},{"d":"2023-01-06","v":2.89},{"d":"2023-01-09","v":2.91},{"d":"2023-01-13","v":2.90},{"d":"2023-01-18","v":2.92},{"d":"2023-01-22","v":2.91},{"d":"2023-01-27","v":2.90},{"d":"2023-01-31","v":2.90},{"d":"2023-02-04","v":2.89},{"d":"2023-02-09","v":2.90},{"d":"2023-02-13","v":2.91},{"d":"2023-02-17","v":2.89},{"d":"2023-02-21","v":2.88},{"d":"2023-02-26","v":2.87},{"d":"2023-03-02","v":2.86},{"d":"2023-03-07","v":2.86},{"d":"2023-03-11","v":2.85},{"d":"2023-03-15","v":2.86},{"d":"2023-03-20","v":2.86},{"d":"2023-03-25","v":2.85},{"d":"2023-03-29","v":2.84},{"d":"2023-04-02","v":2.84},{"d":"2023-04-06","v":2.83},{"d":"2023-04-10","v":2.82},{"d":"2023-04-14","v":2.80},{"d":"2023-04-19","v":2.78},{"d":"2023-04-23","v":2.76},{"d":"2023-04-27","v":2.74},{"d":"2023-05-02","v":2.71},{"d":"2023-05-06","v":2.71},{"d":"2023-05-10","v":2.70},{"d":"2023-05-14","v":2.71},{"d":"2023-05-19","v":2.69},{"d":"2023-05-24","v":2.69},{"d":"2023-05-28","v":2.68},{"d":"2023-06-01","v":2.67},{"d":"2023-06-05","v":2.65},{"d":"2023-06-08","v":2.62},{"d":"2023-06-11","v":2.64},{"d":"2023-06-14","v":2.65},{"d":"2023-06-19","v":2.64},{"d":"2023-06-23","v":2.65},{"d":"2023-06-27","v":2.64},{"d":"2023-07-01","v":2.63},{"d":"2023-07-06","v":2.64},{"d":"2023-07-10","v":2.62},{"d":"2023-07-15","v":2.63},{"d":"2023-07-19","v":2.66},{"d":"2023-07-24","v":2.64},{"d":"2023-07-28","v":2.65},{"d":"2023-08-01","v":2.65},{"d":"2023-08-05","v":2.63},{"d":"2023-08-09","v":2.60},{"d":"2023-08-12","v":2.55},{"d":"2023-08-16","v":2.56},{"d":"2023-08-20","v":2.58},{"d":"2023-08-24","v":2.60},{"d":"2023-08-28","v":2.63},{"d":"2023-09-03","v":2.63},{"d":"2023-09-07","v":2.65},{"d":"2023-09-12","v":2.65},{"d":"2023-09-18","v":2.68},{"d":"2023-09-22","v":2.67},{"d":"2023-09-26","v":2.66},{"d":"2023-10-01","v":2.67},{"d":"2023-10-05","v":2.66},{"d":"2023-10-10","v":2.68},{"d":"2023-10-14","v":2.71},{"d":"2023-10-18","v":2.70},{"d":"2023-10-22","v":2.69},{"d":"2023-10-27","v":2.67},{"d":"2023-10-31","v":2.65},{"d":"2023-11-04","v":2.66},{"d":"2023-11-08","v":2.66},{"d":"2023-11-13","v":2.68},{"d":"2023-11-17","v":2.70},{"d":"2023-11-21","v":2.68},{"d":"2023-11-26","v":2.66},{"d":"2023-11-30","v":2.65},{"d":"2023-12-04","v":2.63},{"d":"2023-12-09","v":2.61},{"d":"2023-12-13","v":2.59},{"d":"2023-12-18","v":2.57},{"d":"2023-12-22","v":2.55},{"d":"2023-12-26","v":2.53},{"d":"2023-12-30","v":2.49},{"d":"2024-01-04","v":2.51},{"d":"2024-01-08","v":2.50},{"d":"2024-01-12","v":2.49},{"d":"2024-01-17","v":2.48},{"d":"2024-01-21","v":2.46},{"d":"2024-01-25","v":2.43},{"d":"2024-01-30","v":2.43},{"d":"2024-02-03","v":2.42},{"d":"2024-02-08","v":2.41},{"d":"2024-02-12","v":2.40},{"d":"2024-02-16","v":2.38},{"d":"2024-02-20","v":2.35},{"d":"2024-02-25","v":2.32},{"d":"2024-02-29","v":2.29},{"d":"2024-03-04","v":2.30},{"d":"2024-03-08","v":2.29},{"d":"2024-03-13","v":2.29},{"d":"2024-03-17","v":2.28},{"d":"2024-03-22","v":2.29},{"d":"2024-03-26","v":2.29},{"d":"2024-03-30","v":2.28},{"d":"2024-04-03","v":2.26},{"d":"2024-04-08","v":2.25},{"d":"2024-04-12","v":2.23},{"d":"2024-04-15","v":2.28},{"d":"2024-04-18","v":2.31},{"d":"2024-04-22","v":2.30},{"d":"2024-04-27","v":2.30},{"d":"2024-05-01","v":2.30},{"d":"2024-05-05","v":2.29},{"d":"2024-05-10","v":2.30},{"d":"2024-05-14","v":2.29},{"d":"2024-05-19","v":2.29},{"d":"2024-05-23","v":2.28},{"d":"2024-05-27","v":2.27},{"d":"2024-05-31","v":2.26},{"d":"2024-06-05","v":2.26},{"d":"2024-06-09","v":2.25},{"d":"2024-06-14","v":2.23},{"d":"2024-06-18","v":2.21},{"d":"2024-06-22","v":2.24},{"d":"2024-06-26","v":2.27},{"d":"2024-07-01","v":2.26},{"d":"2024-07-05","v":2.25},{"d":"2024-07-09","v":2.24},{"d":"2024-07-13","v":2.22},{"d":"2024-07-16","v":2.23}
    ]
  },
  "encoding": {
    "x": {"field": "d", "type": "temporal",
      "scale": {"type": "utc", "domain": [{"year": 2019, "month": 9, "date": 1, "utc": true}, {"year": 2024, "month": 7, "date": 17, "utc": true}]},
      "axis": {"format": "%Y-%m", "labelPadding": 6,
        "values": [{"year": 2019, "month": 9, "date": 1, "utc": true}, {"year": 2020, "month": 3, "date": 1, "utc": true}, {"year": 2020, "month": 9, "date": 1, "utc": true}, {"year": 2021, "month": 3, "date": 1, "utc": true}, {"year": 2021, "month": 9, "date": 1, "utc": true}, {"year": 2022, "month": 3, "date": 1, "utc": true}, {"year": 2022, "month": 9, "date": 1, "utc": true}, {"year": 2023, "month": 3, "date": 1, "utc": true}, {"year": 2023, "month": 9, "date": 1, "utc": true}, {"year": 2024, "month": 3, "date": 1, "utc": true}]}},
    "y": {"field": "v", "type": "quantitative",
      "scale": {"domain": [0.5, 4], "nice": false, "zero": false},
      "axis": {"values": [0.5, 1, 1.5, 2, 2.5, 3, 3.5, 4], "format": "~g", "labelPadding": 9}}
  },
  "layer": [
    {"data": {"name": "raw"}, "mark": {"type": "line", "strokeWidth": 1.6, "interpolate": "linear"},
      "encoding": {"color": {"datum": "估计久期", "type": "nominal",
        "scale": {"domain": ["估计久期", "估计久期_10MA", "10Y国债"], "range": ["#FFE699", "#ED7D31", "#C00000"]},
        "legend": {"title": null, "orient": "none", "legendX": 313, "legendY": -56, "direction": "horizontal",
          "symbolType": "stroke", "symbolSize": 1300, "symbolStrokeWidth": 3.5, "labelFont": "Noto Sans CJK SC", "labelFontSize": 15, "labelFontWeight": "bold", "labelColor": "#595959", "columnPadding": 14, "labelOffset": 4}}}},
    {"data": {"name": "ma"}, "mark": {"type": "line", "strokeWidth": 3.2},
      "encoding": {"color": {"datum": "估计久期_10MA", "type": "nominal"}}},
    {"data": {"name": "bond"}, "mark": {"type": "line", "strokeWidth": 2.2},
      "encoding": {"color": {"datum": "10Y国债", "type": "nominal"}}}
  ]
}
